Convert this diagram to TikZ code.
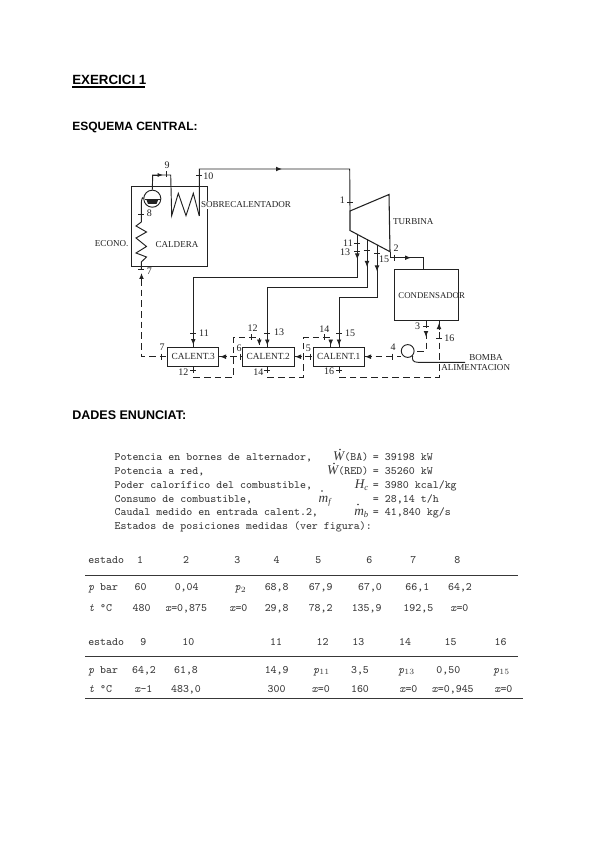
\documentclass[tikz,border=0pt]{standalone}
\usepackage{fontspec}
\usepackage{amsmath}
\setmainfont{Liberation Sans}
\newfontfamily\lbl{Liberation Serif}
\usetikzlibrary{arrows.meta,calc}
\definecolor{ink}{HTML}{222222}
\definecolor{tink}{HTML}{383838}
\newcommand\tkh[2]{\draw[pipe] (#1-3,#2) -- (#1+3,#2);}
\newcommand\tkv[2]{\draw[pipe] (#1,#2-3) -- (#1,#2+3);}
\newcommand\ard[2]{\draw[pipe,-{Latex[length=4.5pt,width=3.6pt]}] (#1,#2-3) -- (#1,#2+3);}
\newcommand\aru[2]{\draw[pipe,-{Latex[length=4.5pt,width=3.6pt]}] (#1,#2+3) -- (#1,#2-3);}
\newcommand\arl[2]{\draw[pipe,-{Latex[length=4.5pt,width=3.6pt]}] (#1+3,#2) -- (#1-3,#2);}
\newcommand\arr[2]{\draw[pipe,-{Latex[length=4.5pt,width=3.6pt]}] (#1-3,#2) -- (#1+3,#2);}
\newcommand\lab[3]{\node[lab] at (#1,#2) {#3};}
\newcommand\num[3]{\node[numl] at (#1,#2) {#3};}
\newcommand\cel[3]{\node[cell] at ({80+#1/3},#2) {#3};}
\newcommand\cell[2]{\node[cell,anchor=west] at (88,#1) {#2};}
\newcommand\sym[1]{{\lbl\itshape\fontsize{10}{10}\selectfont #1}}
\newcommand\subs[1]{\raisebox{-1.6pt}{\lbl\itshape\fontsize{6.5}{7}\selectfont #1}}
\tikzset{
  pipe/.style={draw=ink,line width=0.7pt},
  wet/.style={draw=ink,line width=0.7pt,dash pattern=on 5pt off 3pt},
  box/.style={draw=ink,line width=0.7pt,inner sep=0pt,font=\lbl\fontsize{6.6}{7}\selectfont,text=ink},
  heatbox/.style={box,minimum width=38.6pt,minimum height=14.4pt,font=\lbl\fontsize{7}{8}\selectfont},
  lab/.style={inner sep=0pt,font=\lbl\fontsize{6.8}{8}\selectfont,text=ink},
  numl/.style={inner sep=0pt,font=\lbl\fontsize{7.5}{8}\selectfont,text=ink},
  cell/.style={inner sep=0pt,text height=6pt,text depth=1.5pt,font=\ttfamily\fontsize{8.5}{10}\selectfont,text=tink},
  para/.style={inner sep=0pt,anchor=base west,text height=5.5pt,text depth=1.5pt,font=\ttfamily\fontsize{8.45}{10}\selectfont,text=tink},
  head/.style={inner sep=0pt,anchor=base west,font=\bfseries\fontsize{9}{12}\selectfont,text=black},
  rulel/.style={draw=tink,line width=0.7pt}
}
\begin{document}
\begin{tikzpicture}[x=0.75pt,y=-0.75pt]
\useasboundingbox (0,0) rectangle (600,848);
\fill[white] (0,0) rectangle (600,848);
% headings
\node[head,font=\bfseries\fontsize{10}{12}\selectfont] (h1) at (72,85) {EXERCICI 1};
\draw[line width=0.8pt] (72,87) -- (145,87);
\node[head] (h2) at (72,131) {ESQUEMA CENTRAL:};
\node[head,font=\bfseries\fontsize{9.4}{12}\selectfont] (h3) at (72,419) {DADES ENUNCIAT:};
% equipment
\node[box,minimum width=57.5pt,minimum height=60pt] (caldera) at (169.3,226) {};
\node[lab] at (177,245) {CALDERA};
\node[heatbox] (calent3) at (193.2,356.7) {CALENT.3};
\node[heatbox] (calent2) at (268.3,356.7) {CALENT.2};
\node[heatbox] (calent1) at (338.8,356.7) {CALENT.1};
\node[box,minimum width=48pt,minimum height=38.6pt] (cond) at (426.7,295) {};
\node[draw=ink,line width=0.7pt,circle,minimum size=9.6pt,inner sep=0pt] (pump) at (407.7,351) {};
\node[draw=ink,line width=0.7pt,circle,minimum size=12.8pt,inner sep=0pt,fill=white] (drum) at (152.3,198.7) {};
\fill[ink] (146.5,200) -- (158.1,200) -- (156.5,204) -- (148,204) -- cycle;
\draw[ink,line width=0.5pt] (145,199) -- (159.6,199);
% turbine
\coordinate (t1) at (350,211);
\coordinate (t2) at (389,194.5);
\coordinate (t3) at (390,251.7);
\coordinate (t4) at (350,230.5);
\draw[draw=ink,line width=0.8pt] (t1) -- (t2) -- (t3) -- (t4) -- cycle;
% steam
\coordinate (s10) at (199.3,169);
\coordinate (c1) at (199.3,216);
\draw[pipe] (c1) -- (s10) -- (349.7,169) -- (t1);
\arr{279}{169}
\draw[pipe] (c1) -- (193.3,193.3) -- (186,215.7) -- (178.3,193.3) -- (171.7,215.7) -- (170.7,175) -- (152.7,175) -- (drum.north);
\draw[pipe,-{Latex[length=4pt,width=3pt]}] (152.7,175) -- (163,175);
\coordinate (e1) at (141.3,269);
\draw[pipe] (drum.west) .. controls (143,196) and (141.3,198) .. (141.3,205) -- (141.3,222) -- (136,226) -- (146.5,232) -- (136,238) -- (146.5,246.5) -- (136,253) -- (146.5,257) -- (141.3,262) -- (caldera.south -| e1) -- (e1);
\aru{141.5}{276}
% feed water
\coordinate (f7) at (141.5,356.7);
\draw[wet] (141.5,279) -- (f7) -- (calent3.west);
\draw[wet] (calent3.east) -- (calent2.west);
\draw[wet] (calent2.east) -- (calent1.west);
\draw[wet] (calent1.east) -- (401,356.7);
\arl{223}{356.7}\arl{298}{356.7}\arl{368}{356.7}
% extractions
\coordinate (b11) at (193.3,277.7);
\coordinate (b13) at (267.3,287.3);
\coordinate (b15) at (339,297);
\coordinate (e11) at (357.3,234.5);
\coordinate (e13) at (367,239.5);
\coordinate (e15) at (377,245);
\draw[pipe] (calent3.north -| b11) -- (b11) -- (b11 -| e11) -- (e11);
\draw[pipe] (calent2.north -| b13) -- (b13) -- (b13 -| e13) -- (e13);
\draw[pipe] (calent1.north -| b15) -- (b15) -- (b15 -| e15) -- (e15);
\ard{357.3}{256.5}\ard{367}{264}\ard{377}{268.5}
\ard{193.3}{342}\ard{267.3}{342.5}\ard{339}{342.5}
% drains
\coordinate (d12) at (193.3,377.3);
\coordinate (u12) at (233.3,337.3);
\coordinate (t12) at (259.3,337.3);
\draw[wet] (calent3.south -| d12) -- (d12) -- (d12 -| u12) -- (u12) -- (t12) -- (calent2.north -| t12);
\coordinate (d14) at (267.3,377.3);
\coordinate (u14) at (303.5,337.3);
\coordinate (t14) at (330.7,337.3);
\draw[wet] (calent2.south -| d14) -- (d14) -- (d14 -| u14) -- (u14) -- (t14) -- (calent1.north -| t14);
\ard{259.3}{342.5}\ard{330.7}{342.5}
% turbine to condenser
\coordinate (x2) at (390,257.7);
\coordinate (x3) at (423.7,257.7);
\draw[pipe] (t3) -- (x2) -- (x3) -- (cond.north -| x3);
\arr{408}{257.7}
% condensate
\coordinate (k3) at (426,351);
\draw[wet] (cond.south -| k3) -- (k3) -- (pump.east);
\ard{426}{334}
\coordinate (k16) at (439,377.3);
\coordinate (k17) at (339,377.3);
\draw[wet] (cond.south -| k16) -- (k16) -- (k17) -- (calent1.south -| k17);
\aru{439}{326}
\draw[pipe] (pump.south east) .. controls (412,360) and (413,362.3) .. (418,362.3) -- (465,362.3);
% ticks
\tkh{350}{202.3}\tkh{357.3}{243.3}\tkh{357.3}{251}\tkh{366.7}{250}\tkh{377}{253.7}
\tkv{394.7}{257.7}\tkh{426}{326.7}\tkh{439}{338.3}\tkv{392.7}{356.7}
\tkv{310}{356.7}\tkv{240.7}{356.7}\tkv{161.7}{356.7}
\tkh{193.3}{333}\tkh{267.3}{333}\tkh{339}{333.3}
\tkv{251.7}{337.3}\tkv{324}{337.3}
\tkh{193.3}{370}\tkh{267.3}{370.7}\tkh{339}{370.7}
\tkh{141.3}{214}\tkh{141.3}{269}\tkh{199.3}{175.7}\tkv{166.7}{174.5}
% labels
\num{167}{165}{9}\num{208.3}{176}{10}
\node[lab,fill=white,inner sep=0.5pt] at (246,205) {SOBRECALENTADOR};
\num{149.3}{213.3}{8}\lab{111.7}{244}{ECONO.}\num{149.3}{271.3}{7}
\num{204}{332.7}{11}\num{252.7}{327.7}{12}\num{279}{332}{13}\num{324.3}{329}{14}\num{350}{333.3}{15}
\num{162}{347.3}{7}\num{239}{348.7}{6}\num{308.3}{348}{5}
\num{183.3}{371.7}{12}\num{258.3}{371.7}{14}\num{329}{371}{16}
\num{342.3}{200}{1}\lab{413.3}{222}{TURBINA}\num{348}{242.7}{11}\num{345}{252.3}{13}\num{384}{259.3}{15}\num{396}{248.3}{2}
\node[lab,font=\lbl\fontsize{6.6}{8}\selectfont] at (431.7,295.3) {CONDENSADOR};
\num{417.7}{326}{3}\num{449.3}{338.3}{16}\num{393}{347.3}{4}
\lab{486}{357.7}{BOMBA}
\node[lab,fill=white,inner sep=0.5pt] at (475.7,367.7) {ALIMENTACION};
% statement
\node[para] at (114.3,460) {Potencia en bornes de alternador,};
\node[para] at (114.3,474) {Potencia a red,};
\node[para] at (114.3,488) {Poder calorífico del combustible,};
\node[para] at (114.3,502) {Consumo de combustible,};
\node[para] at (114.3,515.5) {Caudal medido en entrada calent.2,};
\node[para] at (114.3,529.5) {Estados de posiciones medidas (ver figura):};
\node[para,anchor=base east] at (368.5,460) {\sym{W}(BA)};
\node[para,anchor=base east] at (368.5,474) {\sym{W}(RED)};
\node[para,anchor=base east] at (368.5,488) {\sym{H}\subs{c}};
\node[para,anchor=base east] at (331,502) {\sym{m}\subs{f}};
\node[para,anchor=base east] at (368.5,515.5) {\sym{m}\subs{b}};
\fill[tink] (340,449.5) circle (0.8);
\fill[tink] (334,463.5) circle (0.8);
\fill[tink] (322,491) circle (0.8);
\fill[tink] (358,504.5) circle (0.8);
\node[para] at (372.7,460) {= 39198 kW};
\node[para] at (372.7,474) {= 35260 kW};
\node[para] at (372.7,488) {= 3980 kcal/kg};
\node[para] at (372.7,502) {= 28,14 t/h};
\node[para] at (372.7,515.5) {= 41,840 kg/s};
% table
\cell{560.7}{estado}\cel{180}{560.7}{1}\cel{318}{560.7}{2}\cel{472}{560.7}{3}\cel{590}{560.7}{4}\cel{715}{560.7}{5}\cel{868}{560.7}{6}\cel{1000}{560.7}{7}\cel{1132}{560.7}{8}
\draw[rulel] (85,575) -- (518,575);
\cell{587.7}{\textit{p} bar}\cel{182}{587.7}{60}\cel{320}{587.7}{0,04}\cel{482}{587.7}{\textit{p}$_2$}\cel{590}{587.7}{68,8}\cel{722}{587.7}{67,9}\cel{870}{587.7}{67,0}\cel{1012}{587.7}{66,1}\cel{1140}{587.7}{64,2}
\cell{608.3}{\textit{t} °C}\cel{185}{608.3}{480}\cel{318}{608.3}{\textit{x}=0,875}\cel{475}{608.3}{\textit{x}=0}\cel{590}{608.3}{29,8}\cel{722}{608.3}{78,2}\cel{860}{608.3}{135,9}\cel{1015}{608.3}{192,5}\cel{1138}{608.3}{\textit{x}=0}
\cell{642.3}{estado}\cel{190}{642.3}{9}\cel{325}{642.3}{10}\cel{588}{642.3}{11}\cel{728}{642.3}{12}\cel{835}{642.3}{13}\cel{975}{642.3}{14}\cel{1112}{642.3}{15}\cel{1262}{642.3}{16}
\draw[rulel] (85,656) -- (518,656);
\cell{670}{\textit{p} bar}\cel{192}{670}{64,2}\cel{318}{670}{61,8}\cel{590}{670}{14,9}\cel{725}{670}{\textit{p}$_{11}$}\cel{840}{670}{3,5}\cel{980}{670}{\textit{p}$_{13}$}\cel{1105}{670}{0,50}\cel{1265}{670}{\textit{p}$_{15}$}
\cell{689}{\textit{t} °C}\cel{190}{689}{\textit{x}-1}\cel{318}{689}{483,0}\cel{590}{689}{300}\cel{722}{689}{\textit{x}=0}\cel{840}{689}{160}\cel{985}{689}{\textit{x}=0}\cel{1118}{689}{\textit{x}=0,945}\cel{1270}{689}{\textit{x}=0}
\draw[rulel,line width=0.5pt] (85,698) -- (523,698);
\end{tikzpicture}
\end{document}
